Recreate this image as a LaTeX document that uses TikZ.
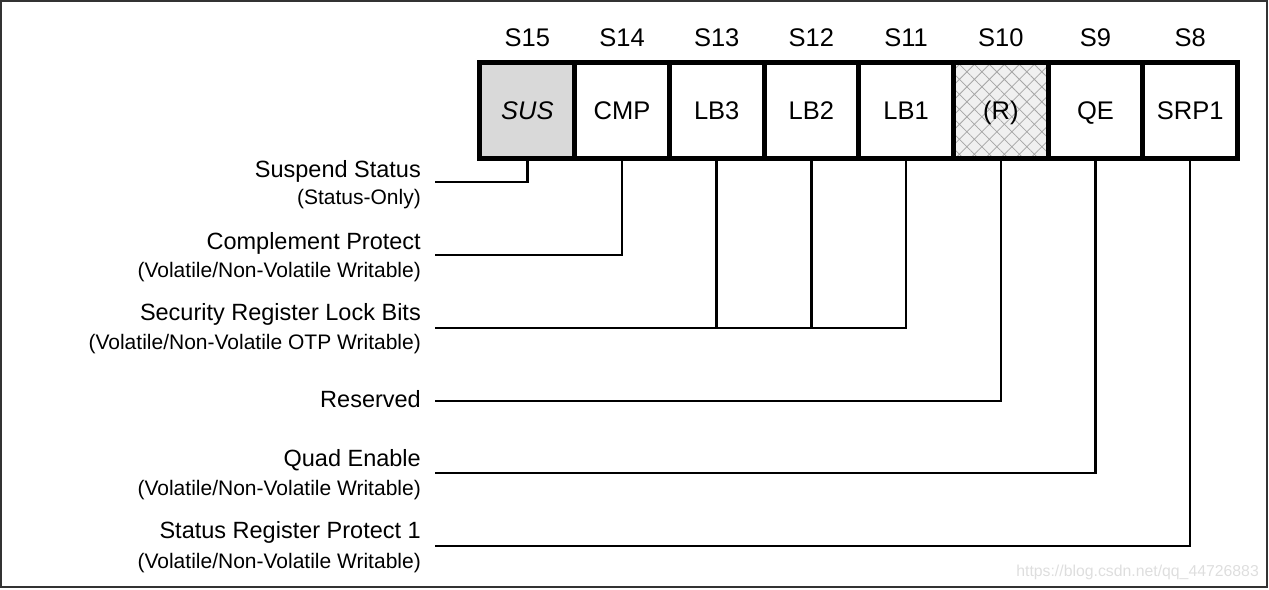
\documentclass[tikz,border=0pt]{standalone}
\usepackage{fontspec}
\setmainfont{Liberation Sans}
\usetikzlibrary{patterns.meta}

\begin{document}
\begin{tikzpicture}[x=1pt, y=-1pt,
    zelle/.style={draw, line width=5pt, minimum width=94.7pt, minimum height=96pt, inner sep=0pt,
        text height=18pt, text depth=0pt, font=\fontsize{25.5}{30}\selectfont},
    leer/.style={fill=white},
    grau/.style={fill=black!15},
    reserviert/.style={preaction={fill=black!6}, pattern={Hatch[angle=45, distance=10.6pt, line width=0.8pt]}, pattern color=black!35},
    bitnr/.style={text height=18pt, text depth=0pt, font=\fontsize{25.5}{30}\selectfont},
    linie/.style={line width=2.5pt},
    titel/.style={anchor=base east, inner sep=0pt, font=\fontsize{23.5}{28}\selectfont},
    zusatz/.style={anchor=base east, inner sep=0pt, font=\fontsize{21}{25}\selectfont}]

    % Rahmen
    \useasboundingbox (0,0) rectangle (1269,589);
    \draw[line width=1.5pt, black!80] (1,1) rectangle (1267,587);

    % Statusregister S15 bis S8
    \foreach \bit/\name/\art [count=\i from 0] in {15/\textit{SUS}/grau, 14/CMP/leer, 13/LB3/leer,
        12/LB2/leer, 11/LB1/leer, 10/(R)/reserviert, 9/QE/leer, 8/SRP1/leer}
    {
        \node[zelle, \art] (c\bit) at ({527.3+94.7*\i},110) {\name};
        \node[bitnr] (s\bit) at ({527.3+94.7*\i},37) {S\bit};
    }

    % Enden der Leitungen
    \coordinate (k15) at (435,182);
    \coordinate (k14) at (435,255);
    \coordinate (k11) at (435,328);
    \coordinate (k10) at (435,401);
    \coordinate (k9) at (435,473);
    \coordinate (k8) at (435,546);

    % Leitungen
    \draw[linie] (c15.south) |- (k15);
    \draw[linie] (c14.south) |- (k14);
    \draw[linie] (c11.south) |- (k11);
    \draw[linie] (c13.south) -- (c13.south |- k11);
    \draw[linie] (c12.south) -- (c12.south |- k11);
    \draw[linie] (c10.south) |- (k10);
    \draw[linie] (c9.south) |- (k9);
    \draw[linie] (c8.south) |- (k8);

    % Beschriftung
    \node[titel] (t15) at (421,177) {Suspend Status};
    \node[zusatz] (u15) at (421,204) {(Status-Only)};
    \node[titel] (t14) at (421,249) {Complement Protect};
    \node[zusatz] (u14) at (421,277) {(Volatile/Non-Volatile Writable)};
    \node[titel] (t11) at (421,320) {Security Register Lock Bits};
    \node[zusatz] (u11) at (421,349) {(Volatile/Non-Volatile OTP Writable)};
    \node[titel] (t10) at (421,407) {Reserved};
    \node[titel] (t9) at (421,466) {Quad Enable};
    \node[zusatz] (u9) at (421,495) {(Volatile/Non-Volatile Writable)};
    \node[titel] (t8) at (421,538) {Status Register Protect 1};
    \node[zusatz] (u8) at (421,568) {(Volatile/Non-Volatile Writable)};

    % Wasserzeichen
    \node[anchor=base east, inner sep=0pt, text=black!13, font=\fontsize{15.8}{19}\selectfont] (wz) at (1259,576) {https://blog.csdn.net/qq\_44726883};
\end{tikzpicture}
\end{document}
